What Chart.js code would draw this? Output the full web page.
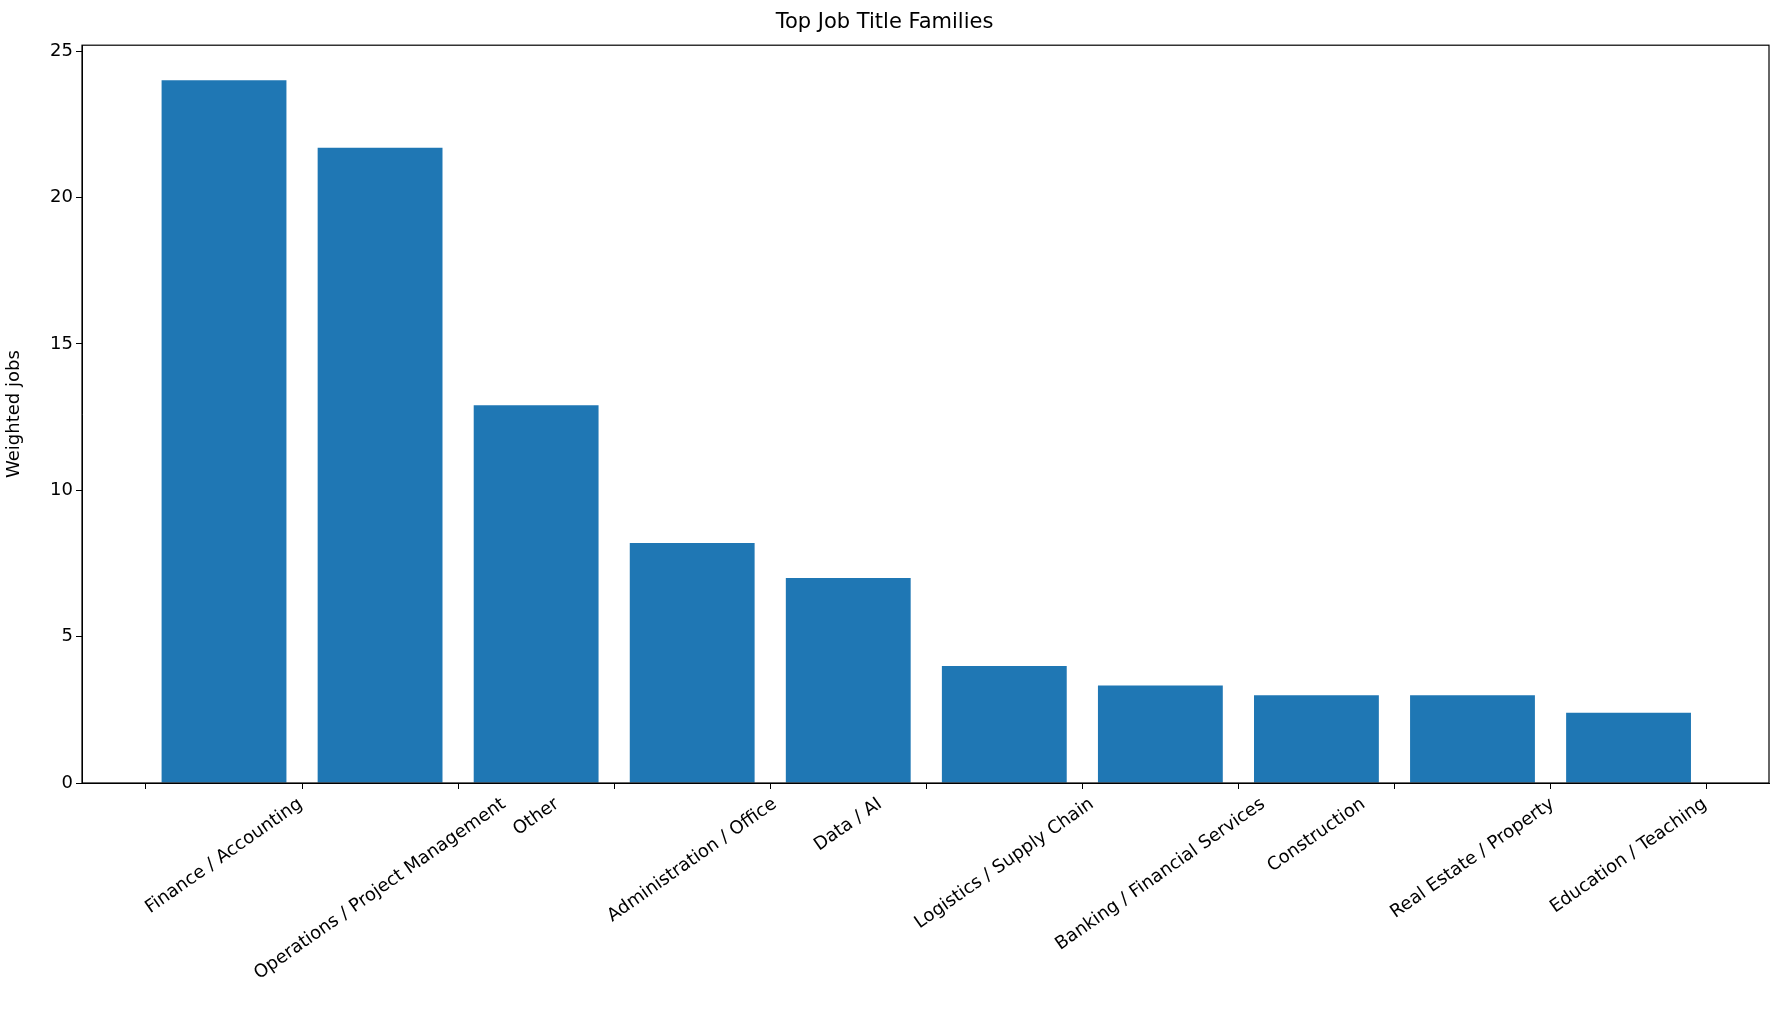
<!DOCTYPE html>
<html>
<head>
<meta charset="utf-8">
<script src="https://cdn.jsdelivr.net/npm/chart.js@4"></script>
<style>
  body { margin: 0; background: #fff; }
  canvas { display: block; }
</style>
</head>
<body>
<canvas id="jobsChart" width="1784" height="1031"></canvas>
<script>
const families = [
  "Finance / Accounting", "Operations / Project Management", "Other",
  "Administration / Office", "Data / AI", "Logistics / Supply Chain",
  "Banking / Financial Services", "Construction", "Real Estate / Property",
  "Education / Teaching"
];
const weightedJobs = [24.0, 21.7, 12.9, 8.2, 7.0, 4.0, 3.33, 3.0, 3.0, 2.4];
const yTicks = [0, 5, 10, 15, 20, 25];

Chart.defaults.font.family = "DejaVu Sans";
Chart.defaults.color = "#000";

// matplotlib style frame, plus x labels rotated about their centre
const frame = {
  id: "frame",
  afterDraw(chart) {
    const { ctx, chartArea: a } = chart;
    const xs = chart.scales.x;
    ctx.save();
    ctx.strokeStyle = "#000";
    ctx.lineWidth = 1.2;
    ctx.strokeRect(a.left, a.top, a.right - a.left, a.bottom - a.top);
    ctx.font = "18px 'DejaVu Sans'";
    ctx.fillStyle = "#000";
    ctx.textAlign = "center";
    ctx.textBaseline = "middle";
    const ang = -35 * Math.PI / 180;
    families.forEach((name, i) => {
      const w = ctx.measureText(name).width;
      const h = 18;
      // rotated box height, so its top sits just below the tick
      const boxH = w * Math.sin(-ang) + h * Math.cos(ang);
      ctx.save();
      ctx.translate(xs.getPixelForValue(i), a.bottom + 12 + boxH / 2);
      ctx.rotate(ang);
      ctx.fillText(name, 0, 0);
      ctx.restore();
    });
    ctx.restore();
  }
};

new Chart(document.getElementById("jobsChart"), {
  type: "bar",
  data: {
    datasets: [{
      data: weightedJobs.map((v, i) => ({ x: i, y: v })),
      backgroundColor: "#1f77b4",
      categoryPercentage: 0.8,
      barPercentage: 1.0
    }]
  },
  plugins: [frame],
  options: {
    responsive: false,
    animation: false,
    layout: { padding: { top: 0, right: 15, left: 0, bottom: 0 } },
    plugins: {
      legend: { display: false },
      tooltip: { enabled: false },
      title: {
        display: true,
        text: "Top Job Title Families",
        font: { size: 21, weight: "normal" },
        padding: { top: 10, bottom: 10 }
      }
    },
    scales: {
      x: {
        type: "linear",
        offset: false,
        min: -0.91,
        max: 9.9,
        afterBuildTicks(axis) { axis.ticks = families.map((_, i) => ({ value: i })); },
        afterFit(axis) { axis.height = 248; },
        grid: { drawOnChartArea: false, tickLength: 6, color: "#000" },
        border: { color: "#000" },
        ticks: { autoSkip: false, callback: () => "" }
      },
      y: {
        min: 0,
        max: 25.2,
        afterBuildTicks(axis) { axis.ticks = yTicks.map(v => ({ value: v })); },
        afterFit(axis) { axis.width = 82; },
        grid: { drawOnChartArea: false, tickLength: 6, color: "#000" },
        border: { color: "#000" },
        title: { display: true, text: "Weighted jobs", font: { size: 18 }, padding: 4 },
        ticks: { font: { size: 18 } }
      }
    }
  }
});
</script>
</body>
</html>
